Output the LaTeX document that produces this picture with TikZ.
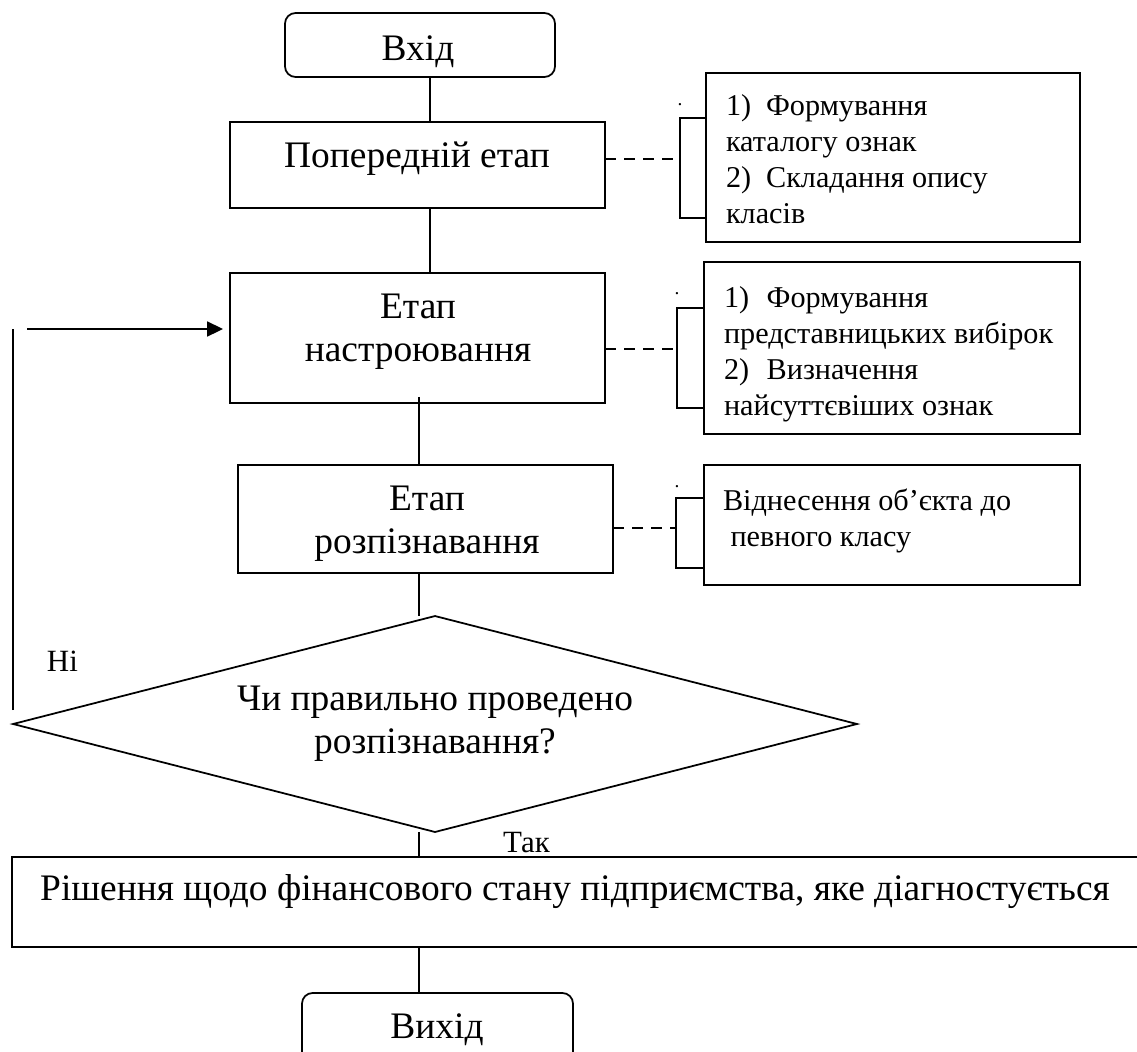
\documentclass[tikz,border=0pt]{standalone}
\usepackage{fontspec}
\setmainfont{Liberation Serif}
\usetikzlibrary{shapes.geometric,arrows.meta}

% stacked lines: first baseline is the box baseline
\newcommand\cstack[1]{\vtop{\halign{\hfil##\hfil\cr#1\crcr}}}
\newcommand\lstack[1]{\vtop{\halign{##\hfil\cr#1\crcr}}}

\tikzset{
  every node/.style={inner sep=0pt, outer sep=0pt},
  frame/.style={draw, rectangle, line width=1pt},
  capsule/.style={frame, rounded corners=6pt},
  link/.style={line width=1pt},
  dashlink/.style={line width=1pt, dash pattern=on 6.3pt off 4.6pt},
  maintext/.style={font=\fontsize{21.3}{25}\selectfont},
  notetext/.style={font=\fontsize{17.2}{20.5}\selectfont},
  labeltext/.style={font=\fontsize{17.6}{20.5}\selectfont},
  dottext/.style={font=\fontsize{11}{13}\selectfont},
}

\begin{document}
\begin{tikzpicture}[x=0.02cm, y=-0.02cm]
\useasboundingbox (0,0) rectangle (1137,1052);
\clip (0,0) rectangle (1137,1052);

% main column
\node[capsule, minimum width=5.4cm, minimum height=1.28cm] (entry) at (420,45) {};
\node[frame, minimum width=7.5cm, minimum height=1.72cm] (prelim) at (417.5,165) {};
\node[frame, minimum width=7.5cm, minimum height=2.6cm] (tune) at (417.5,338) {};
\node[frame, minimum width=7.5cm, minimum height=2.16cm] (recog) at (425.5,519) {};
\node[draw, diamond, line width=1pt, minimum width=16.88cm, minimum height=4.32cm] (check) at (435,724) {};
\node[frame, minimum width=22.56cm, minimum height=1.8cm] (decision) at (576,902) {};
\node[capsule, minimum width=5.42cm, minimum height=2cm] (exit) at (437.5,1043) {};

% side notes
\node[frame, minimum width=7.48cm, minimum height=3.38cm] (noteA) at (893,157.5) {};
\node[frame, minimum width=7.52cm, minimum height=3.44cm] (noteB) at (892,348) {};
\node[frame, minimum width=7.52cm, minimum height=2.4cm] (noteC) at (892,525) {};

% texts of the main column
\node[maintext, anchor=base] (entryT) at (418,60) {Вхід};
\node[maintext, anchor=base] (prelimT) at (417,167) {Попередній етап};
\node[maintext, anchor=base] (tuneT) at (418,318) {\cstack{Етап\cr настроювання}};
\node[maintext, anchor=base] (recogT) at (427,510) {\cstack{Етап\cr розпізнавання}};
\node[maintext, anchor=base] (checkT) at (435,710) {\cstack{Чи правильно проведено\cr розпізнавання?}};
\node[maintext, anchor=base] (decisionT) at (575,900) {Рішення щодо фінансового стану підприємства, яке діагностується};
\node[maintext, anchor=base] (exitT) at (437,1038) {Вихід};

% branch labels
\node[labeltext, anchor=base west] (noLbl) at (47,671) {Ні};
\node[labeltext, anchor=base west] (yesLbl) at (503,852) {Так};

% texts of the side notes
\node[notetext, anchor=base west] (noteAT) at (726,115)
  {\lstack{1)\hspace{8.5pt}Формування\cr каталогу ознак\cr 2)\hspace{8.5pt}Складання опису\cr класів}};
\node[notetext, anchor=base west] (noteBT) at (724,307)
  {\lstack{1)\hspace{10pt}Формування\cr представницьких вибірок\cr 2)\hspace{10pt}Визначення\cr найсуттєвіших ознак}};
\node[notetext, anchor=base west] (noteCT) at (723,510)
  {\lstack{Віднесення об’єкта до\cr \ певного класу}};

% stray dots above the brackets
\node[dottext, anchor=base] (dotA) at (680,105) {.};
\node[dottext, anchor=base] (dotB) at (677,294) {.};
\node[dottext, anchor=base] (dotC) at (677,487) {.};

% vertical flow
\coordinate (spineA) at (430,0);
\coordinate (spineB) at (419,0);
\draw[link] (entry.south -| spineA) -- (prelim.north -| spineA);
\draw[link] (prelim.south -| spineA) -- (tune.north -| spineA);
\draw[link] ([yshift=0.12cm]tune.south -| spineB) -- (recog.north -| spineB);
\draw[link] (recog.south -| spineB) -- (check.north -| spineB);
\draw[link] (check.south -| spineB) -- (decision.north -| spineB);
\draw[link] (decision.south -| spineB) -- (exit.north -| spineB);

% "Ні" return path
\coordinate (loopTop) at (13,329);
\coordinate (loopBot) at (13,710);
\coordinate (loopStart) at (27,329);
\draw[link] (loopBot) -- (loopTop);
\draw[link, -{Triangle[length=9pt,width=8.5pt]}, shorten >=4pt] (loopStart) -- (loopStart -| tune.west);

% brackets and dashed leaders to the notes
\coordinate (brAtop) at (680,118);
\coordinate (brAbot) at (680,218);
\coordinate (brAmid) at (680,159);
\draw[link] (noteA.west |- brAtop) -- (brAtop) -- (brAbot) -- (noteA.west |- brAbot);
\draw[dashlink] (prelim.east |- brAmid) -- (brAmid);

\coordinate (brBtop) at (677,308);
\coordinate (brBbot) at (677,408);
\coordinate (brBmid) at (677,349);
\draw[link] (noteB.west |- brBtop) -- (brBtop) -- (brBbot) -- (noteB.west |- brBbot);
\draw[dashlink] (tune.east |- brBmid) -- (brBmid);

\coordinate (brCtop) at (676,498);
\coordinate (brCbot) at (676,568);
\coordinate (brCmid) at (676,528);
\draw[link] (noteC.west |- brCtop) -- (brCtop) -- (brCbot) -- (noteC.west |- brCbot);
\draw[dashlink] (recog.east |- brCmid) -- (brCmid);
\end{tikzpicture}
\end{document}
